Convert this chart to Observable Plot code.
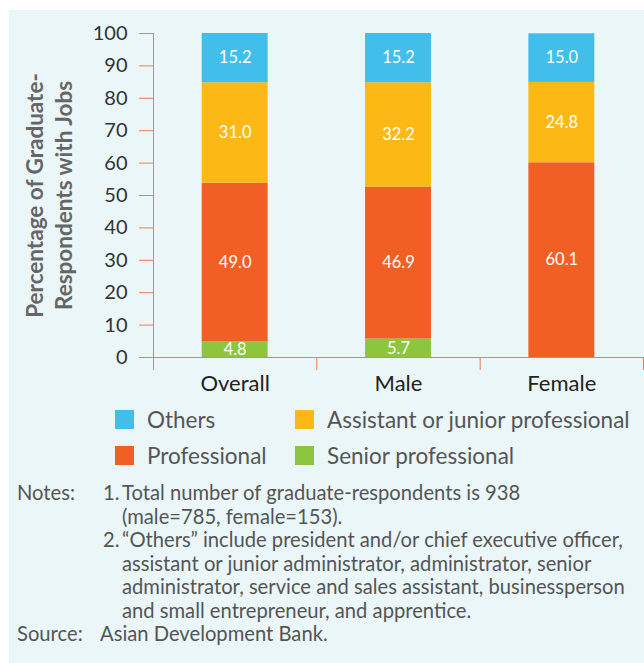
<!DOCTYPE html>
<html>
<head>
<meta charset="utf-8">
<script src="https://cdn.jsdelivr.net/npm/d3@7"></script>
<script src="https://cdn.jsdelivr.net/npm/@observablehq/plot@0.6"></script>
<style>
  body { margin:0; background:#fff; font-family: Lato, "Open Sans", sans-serif; }
  #panel { position:absolute; left:9px; top:10px; width:635px; height:653px; background:#eaf6f8; }
  #chart { position:absolute; left:0; top:0; }
  #legend { position:absolute; left:115px; top:401px; display:grid; grid-template-columns:180px auto; row-gap:0; font-size:22.5px; color:#555; }
  .item { display:flex; align-items:center; height:36px; }
  .sw { width:19px; height:19px; margin-right:13px; flex:none; }
  #notes { position:absolute; left:17px; top:481px; font-size:20.2px; line-height:23.5px; color:#555; width:625px; }
  .row { position:relative; height:23.5px; white-space:nowrap; }
  .lab { position:absolute; left:0; }
  .num { position:absolute; left:86px; }
  .txt { position:absolute; left:105px; }
  .src { position:absolute; left:83px; }
</style>
</head>
<body>
<div id="panel"></div>
<div id="chart"></div>
<div id="legend"></div>
<div id="notes">
  <div class="row"><span class="lab">Notes:</span><span class="num">1.</span><span class="txt">Total number of graduate-respondents is 938</span></div>
  <div class="row"><span class="txt">(male=785, female=153).</span></div>
  <div class="row"><span class="num">2.</span><span class="txt">“Others” include president and/or chief executive officer,</span></div>
  <div class="row"><span class="txt">assistant or junior administrator, administrator, senior</span></div>
  <div class="row"><span class="txt">administrator, service and sales assistant, businessperson</span></div>
  <div class="row"><span class="txt">and small entrepreneur, and apprentice.</span></div>
  <div class="row"><span class="lab">Source:</span><span class="src">Asian Development Bank.</span></div>
</div>
<script>
const categories = ["Overall", "Male", "Female"];
const seriesNames = ["Senior professional", "Professional", "Assistant or junior professional", "Others"];
const seniorProfessional = [4.8, 5.7, 0];
const professional = [49.0, 46.9, 60.1];
const assistantJunior = [31.0, 32.2, 24.8];
const others = [15.2, 15.2, 15.0];
const seriesColors = ["#8cc63e", "#f15f24", "#fcb814", "#41bee9"];
const yTicks = [0, 10, 20, 30, 40, 50, 60, 70, 80, 90, 100];
const yTitle = "Percentage of Graduate-\nRespondents with Jobs";

const seriesValues = [seniorProfessional, professional, assistantJunior, others];
const rows = [];
categories.forEach((c, i) => {
  let acc = 0;
  seriesValues.forEach((vals, s) => {
    const v = vals[i];
    rows.push({i, cat: c, series: seriesNames[s], color: seriesColors[s], value: v, y1: acc, y2: acc + v});
    acc += v;
  });
});

const axisColor = "#f07d52";

const chart = Plot.plot({
  width: 644,
  height: 400,
  marginLeft: 153,
  marginRight: 1,
  marginTop: 33,
  marginBottom: 43,
  style: {background: "transparent", fontFamily: "Lato, 'Open Sans', sans-serif"},
  x: {type: "linear", domain: [0, 3]},
  y: {domain: [0, 100]},
  marks: [
    Plot.rect(rows.filter(d => d.value > 0), {
      x1: d => d.i, x2: d => d.i + 1, y1: "y1", y2: "y2",
      fill: "color", insetLeft: 48.7, insetRight: 48.7
    }),
    Plot.text(rows.filter(d => d.value > 0), {
      x: d => d.i + 0.5, y: d => (d.y1 + d.y2) / 2,
      text: d => d.value.toFixed(1), fill: "white", fontSize: 16.5
    }),
    Plot.ruleY([0], {stroke: axisColor}),
    Plot.ruleX([0], {y1: 0, y2: 100, stroke: axisColor}),
    Plot.axisY({ticks: yTicks, tickSize: 14, tickPadding: 12, stroke: axisColor, fill: "#333", fontSize: 20, label: null}),
    Plot.axisX({ticks: [0, 1, 2, 3], tickSize: 13, tickFormat: () => "", stroke: axisColor, label: null}),
    Plot.axisX({ticks: [0.5, 1.5, 2.5], tickSize: 0, tickPadding: 18, tickFormat: v => categories[Math.floor(v)], fill: "#222", fontSize: 22, label: null}),
    Plot.text([yTitle], {
      text: d => d, frameAnchor: "left", textAnchor: "middle", rotate: -90, dx: -105,
      fontSize: 22.5, fontWeight: "bold", fill: "#666", lineHeight: 1.25
    })
  ]
});
document.getElementById("chart").appendChild(chart);

const legendOrder = [3, 2, 1, 0];
const legend = document.getElementById("legend");
legendOrder.forEach(s => {
  const item = document.createElement("div");
  item.className = "item";
  item.innerHTML = `<span class="sw" style="background:${seriesColors[s]}"></span><span>${seriesNames[s]}</span>`;
  legend.appendChild(item);
});
</script>
</body>
</html>
